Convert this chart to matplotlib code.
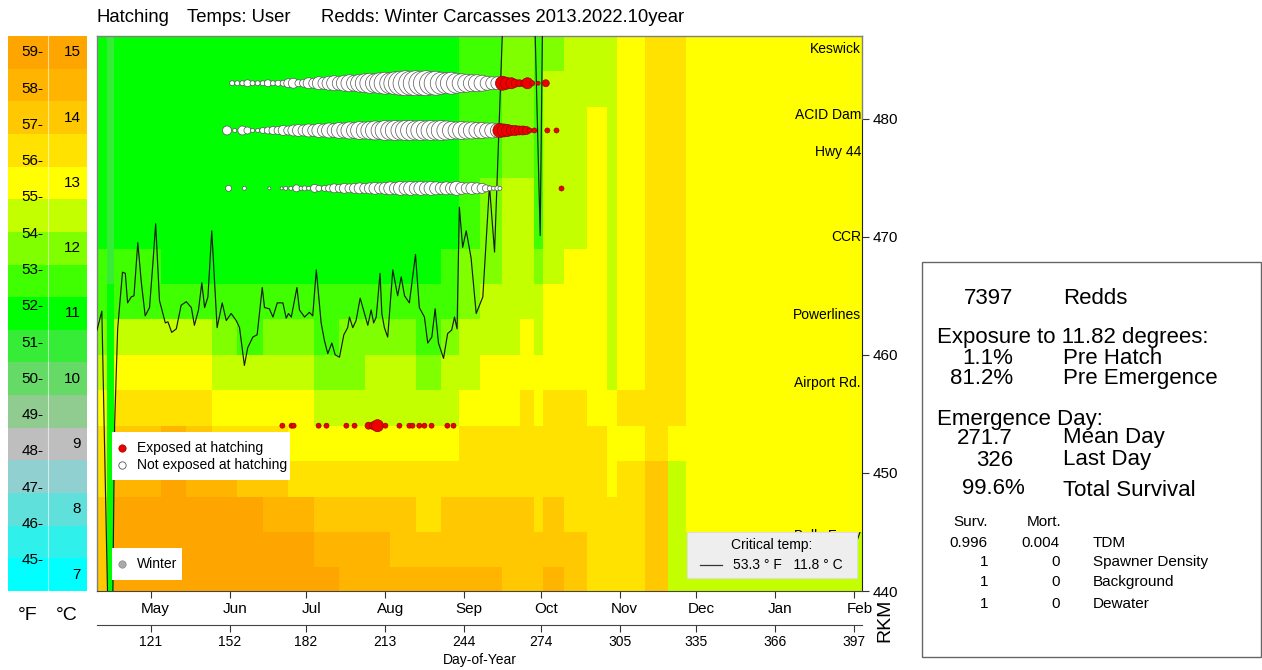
import numpy as np
import matplotlib
matplotlib.use('Agg')
import matplotlib.pyplot as plt
from matplotlib.colors import ListedColormap, BoundaryNorm
from matplotlib.patches import Rectangle
from matplotlib.lines import Line2D
from matplotlib.transforms import ScaledTranslation

plt.rcParams['font.family'] = ['Liberation Sans', 'DejaVu Sans']

# ---------------- data ----------------
band_centers_c = [7.0, 7.5, 8.0, 8.5, 9.0, 9.5, 10.0, 10.5, 11.0, 11.5,
                  12.0, 12.5, 13.0, 13.5, 14.0, 14.5, 15.0]
band_colors = ['#00FFFF', '#30F0EC', '#60E0DA', '#90D0D0', '#BEBEBE', '#90CB90',
               '#66DA66', '#36EC36', '#00FF00', '#40FF00', '#80FF00', '#C4FF00',
               '#FFFF00', '#FFE200', '#FFC800', '#FFB400', '#FFA500']

day_edges = [100, 104, 106.5, 115, 125, 135, 145, 155, 165, 175, 185, 195, 205, 215,
             225, 235, 242, 250, 259, 266, 271.5, 275, 283, 292, 300, 304, 315, 324,
             331, 400]
rkm_edges = [487, 484, 481, 478, 475, 472, 469, 466, 463, 460, 457, 454, 451, 448,
             445, 442, 440]
# temperature (deg C) per day column, top (upstream) to bottom (downstream)
temp_cols = [
    [11.0, 11.0, 11.0, 11.0, 11.0, 11.0, 11.5, 11.5, 12.0, 12.5, 13.0, 13.5, 13.5, 14.0, 14.0, 14.0],
    [10.5, 10.5, 10.5, 10.5, 10.5, 10.5, 10.5, 11.0, 11.0, 11.0, 11.0, 11.0, 11.0, 11.0, 11.0, 11.0],
    [11.0, 11.0, 11.0, 11.0, 11.0, 11.0, 11.5, 11.5, 12.5, 13.0, 13.5, 14.0, 14.5, 15.0, 15.0, 15.0],
    [11.0, 11.0, 11.0, 11.0, 11.0, 11.0, 11.5, 11.5, 12.5, 13.0, 13.5, 14.0, 14.5, 15.0, 15.0, 15.0],
    [11.0, 11.0, 11.0, 11.0, 11.0, 11.0, 11.0, 11.5, 12.5, 13.0, 13.5, 14.5, 15.0, 15.0, 15.0, 15.0],
    [11.0, 11.0, 11.0, 11.0, 11.0, 11.0, 11.0, 11.5, 12.5, 13.0, 13.5, 14.0, 14.5, 15.0, 15.0, 15.0],
    [11.0, 11.0, 11.0, 11.0, 11.0, 11.0, 11.0, 11.5, 12.0, 12.5, 13.0, 13.5, 14.5, 15.0, 15.0, 15.0],
    [11.0, 11.0, 11.0, 11.0, 11.0, 11.0, 11.0, 11.5, 11.5, 12.5, 13.0, 13.5, 14.0, 15.0, 15.0, 15.0],
    [11.0, 11.0, 11.0, 11.0, 11.0, 11.0, 11.0, 11.5, 12.0, 12.5, 13.0, 13.5, 14.0, 14.5, 15.0, 15.0],
    [11.0, 11.0, 11.0, 11.0, 11.0, 11.0, 11.0, 11.5, 12.0, 12.5, 13.0, 13.0, 13.5, 14.5, 15.0, 15.0],
    [11.0, 11.0, 11.0, 11.0, 11.0, 11.0, 11.0, 11.5, 11.5, 12.0, 12.5, 13.0, 13.5, 14.0, 14.5, 15.0],
    [11.0, 11.0, 11.0, 11.0, 11.0, 11.0, 11.0, 11.5, 12.0, 12.0, 12.5, 13.0, 13.5, 14.0, 14.5, 14.5],
    [11.0, 11.0, 11.0, 11.0, 11.0, 11.0, 11.0, 11.5, 12.0, 12.5, 12.5, 13.0, 13.5, 14.0, 14.5, 14.5],
    [11.0, 11.0, 11.0, 11.0, 11.0, 11.0, 11.0, 11.5, 12.0, 12.5, 12.5, 13.0, 13.5, 14.0, 14.0, 14.5],
    [11.0, 11.0, 11.0, 11.0, 11.0, 11.0, 11.0, 11.5, 11.5, 12.0, 12.5, 13.0, 13.5, 13.5, 14.0, 14.5],
    [11.0, 11.0, 11.0, 11.0, 11.0, 11.0, 11.5, 11.5, 12.0, 12.5, 12.5, 13.0, 13.5, 14.0, 14.0, 14.5],
    [11.5, 11.5, 11.5, 11.5, 11.5, 11.5, 12.0, 12.0, 12.5, 12.5, 13.0, 13.5, 13.5, 14.0, 14.0, 14.5],
    [11.5, 11.5, 11.5, 11.5, 12.0, 12.0, 12.0, 12.5, 12.5, 13.0, 13.0, 13.5, 13.5, 14.0, 14.0, 14.5],
    [12.0, 12.0, 12.0, 12.0, 12.5, 12.5, 12.5, 12.5, 12.5, 13.0, 13.0, 13.5, 13.5, 14.0, 14.0, 14.0],
    [12.0, 12.0, 12.0, 12.0, 12.5, 12.5, 12.5, 12.5, 13.0, 13.0, 13.5, 13.5, 13.5, 14.0, 14.0, 14.0],
    [11.5, 11.5, 11.5, 11.5, 11.5, 11.5, 12.0, 12.5, 12.5, 13.0, 13.0, 13.5, 13.5, 13.5, 14.0, 14.0],
    [12.0, 12.5, 12.5, 12.5, 12.5, 12.5, 12.5, 13.0, 13.0, 13.0, 13.5, 13.5, 13.5, 14.0, 14.0, 14.5],
    [12.5, 12.5, 12.5, 12.5, 12.5, 12.5, 13.0, 13.0, 13.0, 13.0, 13.5, 13.5, 13.5, 13.5, 14.0, 14.0],
    [12.5, 12.5, 13.0, 13.0, 13.0, 13.0, 13.0, 13.0, 13.0, 13.0, 13.0, 13.5, 13.5, 13.5, 13.5, 13.5],
    [12.5, 12.5, 12.5, 12.5, 12.5, 12.5, 12.5, 12.5, 12.5, 12.5, 13.0, 13.0, 13.0, 13.5, 13.5, 13.5],
    [13.0, 13.0, 13.0, 13.0, 13.0, 13.0, 13.0, 13.0, 13.0, 13.0, 13.5, 13.0, 13.5, 13.5, 13.5, 13.5],
    [13.5, 13.5, 13.5, 13.5, 13.5, 13.5, 13.5, 13.5, 13.5, 13.5, 13.5, 13.5, 14.0, 14.0, 14.0, 14.0],
    [13.5, 13.5, 13.5, 13.5, 13.5, 13.5, 13.5, 13.5, 13.5, 13.5, 13.5, 13.0, 12.5, 12.5, 12.5, 12.5],
    [13.0, 13.0, 13.0, 13.0, 13.0, 13.0, 13.0, 13.0, 13.0, 13.0, 13.0, 13.0, 13.0, 13.0, 12.5, 12.5],
]

# critical temperature (11.8 C) contour: day-of-year and RKM
crit_day = [100.0, 101.9, 104.3, 106.1, 106.9, 108.1, 110.0, 111.1, 112.0, 113.4, 114.5,
            116.0, 117.4, 118.9, 120.6, 121.9, 123.0, 124.5, 126.8, 127.8, 129.3, 131.1,
            133.0, 135.0, 137.0, 138.2, 139.8, 141.1, 142.2, 143.5, 145.0, 147.1, 149.1,
            150.7, 152.6, 154.6, 155.9, 157.8, 159.1, 161.1, 162.8, 164.8, 165.7, 167.6,
            169.0, 170.7, 172.9, 174.2, 175.1, 176.2, 178.4, 179.4, 181.4, 183.3, 184.6,
            186.0, 187.9, 189.2, 190.5, 192.1, 193.4, 195.1, 196.8, 198.3, 199.0, 200.3,
            201.6, 203.2, 204.9, 206.2, 207.5, 208.5, 209.5, 211.0, 211.7, 212.7, 214.0,
            216.0, 217.9, 219.3, 220.6, 222.5, 224.9, 226.4, 228.4, 229.7, 231.3, 232.6,
            233.9, 235.9, 237.5, 239.1, 240.2, 241.2, 242.1, 243.4, 244.8, 246.7, 248.7,
            251.3, 253.9, 255.9, 259.0, 259.8, np.nan, 271.5, 273.8, 274.8]
crit_rkm = [462.1, 463.7, 438.0, 438.0, 454.0, 462.2, 467.0, 466.9, 464.4, 464.9, 465.0,
            469.5, 466.1, 463.3, 464.0, 467.7, 471.1, 464.6, 462.7, 462.8, 461.9, 462.2,
            464.2, 464.5, 464.0, 462.5, 463.8, 466.1, 464.0, 464.9, 470.5, 462.3, 464.4,
            462.9, 463.5, 462.9, 462.3, 459.1, 460.6, 461.5, 461.7, 465.7, 464.0, 463.9,
            463.2, 464.4, 464.4, 463.1, 463.5, 463.2, 465.7, 463.8, 463.2, 463.6, 463.3,
            467.2, 462.7, 461.2, 460.1, 461.0, 460.0, 459.8, 461.7, 462.3, 463.2, 462.3,
            462.9, 464.8, 463.5, 462.5, 463.8, 462.7, 463.2, 466.9, 463.5, 462.3, 461.5,
            467.2, 465.0, 466.6, 465.0, 464.4, 468.5, 464.0, 463.2, 461.0, 461.5, 463.9,
            461.0, 459.7, 461.8, 462.1, 463.2, 462.2, 472.5, 469.1, 470.5, 468.2, 463.5,
            464.9, 474.3, 468.7, 487.4, 490.0, np.nan, 490.0, 470.1, 490.0]

site_names = ['Keswick', 'ACID Dam', 'Hwy 44', 'CCR', 'Powerlines', 'Airport Rd.', 'Balls Ferry']
site_rkm = [485.9, 480.3, 477.2, 470.0, 463.4, 457.6, 444.7]

# redd groups (bubbles): day-of-year and diameter (px); white = not exposed, red = exposed
row_rkm = [483.0, 479.0, 474.1, 454.0]

r1_white_day = [153, 155, 157, 159, 161, 163, 165, 167, 169, 171, 173, 175, 177, 179, 181,
                183, 185, 187, 189, 191, 193, 195, 197, 199, 201, 203, 205, 207, 209, 211,
                213, 215, 217, 219, 221, 223, 225, 227, 229, 231, 233, 235, 237, 239, 241,
                243, 245, 247, 249, 251, 253, 255, 257]
r1_white_size = [5, 5, 5, 7, 5, 5, 5, 7, 5, 6, 6, 9, 10, 7, 8, 11, 10, 13, 12, 14, 15, 14,
                 16, 17, 16, 18, 19, 20, 19, 21, 22, 21, 23, 24, 25, 24, 25, 24, 25, 23, 24,
                 22, 21, 22, 20, 19, 18, 17, 17, 16, 14, 13, 13]
r1_red_day = [259, 260.5, 262.5, 264, 265.7, 267.5, 268.8, 270.7, 273, 276]
r1_red_size = [14, 12, 11, 8, 7, 7, 11, 5, 4, 7]

r2_white_day = [151, 154, 157, 159, 161, 163, 165, 167, 169, 171, 173, 175, 177, 179, 181,
                183, 185, 187, 189, 191, 193, 195, 197, 199, 201, 203, 205, 207, 209, 211,
                213, 215, 217, 219, 221, 223, 225, 227, 229, 231, 233, 235, 237, 239, 241,
                243, 245, 247, 249, 251, 253, 255, 257]
r2_white_size = [9, 4, 9, 7, 4, 4, 6, 7, 8, 8, 10, 9, 11, 12, 11, 13, 12, 14, 13, 15, 14,
                 16, 15, 17, 16, 18, 17, 18, 19, 18, 20, 19, 20, 19, 20, 20, 19, 20, 19, 20,
                 19, 20, 19, 18, 17, 18, 17, 17, 16, 16, 15, 15, 14]
r2_red_day = [258, 259.5, 261, 262.5, 264, 265.5, 267, 268.4, 269.6, 271.5, 276.6, 280.2]
r2_red_size = [14, 13, 12, 10, 10, 9, 9, 8, 5, 5, 5, 5]

r3_white_day = [151.6, 157.8, 167.6, 172.4, 174, 176, 178.2, 180, 181.4, 183, 185.3, 187,
                189.2, 191, 193, 195, 197, 199, 201, 203, 205, 207, 209, 211, 213, 215,
                217, 219, 221, 223, 225, 227, 229, 231, 233, 235, 237, 239, 241, 243, 245,
                247, 249, 251, 252.5, 254, 255.5, 257, 258]
r3_white_size = [6, 4, 3, 3, 4, 4, 7, 4, 5, 4, 8, 6, 6, 7, 9, 8, 10, 9, 10, 11, 10, 11, 12,
                 11, 12, 13, 12, 14, 13, 14, 13, 14, 13, 14, 13, 12, 13, 12, 14, 12, 11, 12,
                 11, 10, 7, 5, 4, 5, 4]
r3_red_day = [282.1]
r3_red_size = [5]

r4_red_day = [172.7, 176.3, 177.1, 186.9, 190.0, 197.8, 201.0, 206.5, 208.4, 210.0, 213.1,
              218.6, 222.5, 223.7, 226.4, 228.4, 231.2, 237.4, 239.8]
r4_red_size = [5, 5, 5, 5, 5, 5, 5, 7, 8, 12, 5, 5, 5, 5, 5, 5, 5, 5, 5]

month_days = [121, 152, 182, 213, 244, 274, 305, 335, 366, 397]
month_names = ['May', 'Jun', 'Jul', 'Aug', 'Sep', 'Oct', 'Nov', 'Dec', 'Jan', 'Feb']
rkm_ticks = [440, 450, 460, 470, 480]

temp_f_labels = list(range(45, 60))
temp_c_labels = list(range(7, 16))

title_parts = ['Hatching', 'Temps: User', 'Redds: Winter Carcasses 2013.2022.10year']
stats_numbers = ['7397', '1.1%', '81.2%', '271.7', '326', '99.6%']
stats_labels = ['Redds', 'Pre Hatch', 'Pre Emergence', 'Mean Day', 'Last Day', 'Total Survival']
surv_vals = ['0.996', '1', '1', '1']
mort_vals = ['0.004', '0', '0', '0']
mort_names = ['TDM', 'Spawner Density', 'Background', 'Dewater']

# ---------------- figure ----------------
W, H = 1262, 670
fig = plt.figure(figsize=(W / 100, H / 100), dpi=100)


def fx(px):
    return px / W


def fy(py):
    return 1 - py / H


ax = fig.add_axes([fx(97), fy(591), (862 - 97) / W, (591 - 36) / H])
bounds = np.arange(6.75, 15.26, 0.5)
cmap = ListedColormap(band_colors)
cmap.set_over(band_colors[-1])
cmap.set_under(band_colors[0])
norm = BoundaryNorm(bounds, cmap.N)
C = np.array(temp_cols).T
ax.pcolormesh(day_edges, rkm_edges, C, cmap=cmap, norm=norm, shading='flat',
              edgecolors='none', antialiased=False, zorder=1)

ax.plot(crit_day, crit_rkm, color='#1a1a1a', lw=0.85, zorder=3)


def d2s(d):
    return (np.asarray(d) * 0.72) ** 2


white_kw = dict(c='white', edgecolors='#555555', linewidths=0.5, zorder=4)
red_kw = dict(c='#EE0000', edgecolors='#990000', linewidths=0.5, zorder=4)
ax.scatter(r1_white_day, [row_rkm[0]] * len(r1_white_day), s=d2s(r1_white_size), **white_kw)
ax.scatter(r1_red_day, [row_rkm[0]] * len(r1_red_day), s=d2s(r1_red_size), **red_kw)
ax.scatter(r2_white_day, [row_rkm[1]] * len(r2_white_day), s=d2s(r2_white_size), **white_kw)
ax.scatter(r2_red_day, [row_rkm[1]] * len(r2_red_day), s=d2s(r2_red_size), **red_kw)
ax.scatter(r3_white_day, [row_rkm[2]] * len(r3_white_day), s=d2s(r3_white_size), **white_kw)
ax.scatter(r3_red_day, [row_rkm[2]] * len(r3_red_day), s=d2s(r3_red_size), **red_kw)
ax.scatter(r4_red_day, [row_rkm[3]] * len(r4_red_day), s=d2s(r4_red_size), **red_kw)

for name, r in zip(site_names, site_rkm):
    ax.text(399.6, r, name, ha='right', va='center', fontsize=10, zorder=5)

ax.set_xlim(100, 400)
ax.set_ylim(440, 487)

ax.set_xticks(month_days)
ax.set_xticklabels(month_names)
ax.tick_params(axis='x', length=5, pad=3, labelsize=11, color='#333333')
shift = ScaledTranslation(5 / 100, 0, fig.dpi_scale_trans)
for lab in ax.get_xticklabels():
    lab.set_transform(lab.get_transform() + shift)
ax.yaxis.tick_right()
ax.set_yticks(rkm_ticks)
ax.tick_params(axis='y', length=5, pad=3, labelsize=11, color='#333333')
for s in ['left', 'top']:
    ax.spines[s].set_color('#808080')
    ax.spines[s].set_linewidth(1.0)
ax.spines['bottom'].set_color('#444444')
ax.spines['right'].set_bounds(440, 480)
ax.spines['right'].set_color('#222222')
ax.plot([400, 400], [480, 487], color='#808080', lw=1.0, clip_on=False, zorder=5)

sec = ax.secondary_xaxis(-0.0613)
sec.set_xticks(month_days)
sec.set_xticklabels([str(d) for d in month_days])
sec.tick_params(length=5, pad=2, labelsize=10, color='#333333')
sec.spines['bottom'].set_color('#444444')
sec.set_xlabel('Day-of-Year', fontsize=10, labelpad=3)

fig.text(fx(885), fy(620), 'RKM', rotation=90, ha='center', va='center', fontsize=14)

# legends inside plot
ax.add_patch(Rectangle((0.0196, 0.20), 0.2327, 0.0865, transform=ax.transAxes,
                       facecolor='white', edgecolor='none', zorder=6))
ax.scatter([0.0327], [0.2577], transform=ax.transAxes, s=28, c='#EE0000',
           edgecolors='#990000', linewidths=0.5, zorder=7)
ax.scatter([0.0327], [0.2270], transform=ax.transAxes, s=28, c='white',
           edgecolors='#555555', linewidths=0.6, zorder=7)
ax.text(0.0523, 0.2577, 'Exposed at hatching', transform=ax.transAxes, fontsize=10,
        va='center', ha='left', zorder=7)
ax.text(0.0523, 0.2270, 'Not exposed at hatching', transform=ax.transAxes, fontsize=10,
        va='center', ha='left', zorder=7)

ax.add_patch(Rectangle((0.0196, 0.0198), 0.0915, 0.0577, transform=ax.transAxes,
                       facecolor='white', edgecolor='none', zorder=6))
ax.scatter([0.0327], [0.0486], transform=ax.transAxes, s=28, c='#AAAAAA',
           edgecolors='#888888', linewidths=0.5, zorder=7)
ax.text(0.0523, 0.0486, 'Winter', transform=ax.transAxes, fontsize=10,
        va='center', ha='left', zorder=7)

ax.add_patch(Rectangle((0.7712, 0.0234), 0.2223, 0.0829, transform=ax.transAxes,
                       facecolor='#EEEEEE', edgecolor='#DDDDDD', lw=0.8, zorder=6))
ax.text(0.8824, 0.0829, 'Critical temp:', transform=ax.transAxes, fontsize=10,
        ha='center', va='center', zorder=7)
ax.add_line(Line2D([0.788, 0.817], [0.0468, 0.0468], transform=ax.transAxes,
                   color='#333333', lw=0.9, zorder=7))
ax.text(0.8314, 0.0468, '53.3 ° F   11.8 ° C', transform=ax.transAxes, fontsize=10,
        ha='left', va='center', zorder=7)

# title
for t, px in zip(title_parts, [97, 187, 321]):
    fig.text(fx(px), fy(18), t, ha='left', va='center', fontsize=13.3)

# colour key
cb = fig.add_axes([fx(8), fy(591), (87 - 8) / W, (591 - 36) / H])
for c, col in zip(band_centers_c, band_colors):
    cb.add_patch(Rectangle((0, c - 0.25), 2, 0.5, facecolor=col, edgecolor='none'))
cb.axvline(1, color='white', lw=0.8, alpha=0.6)
cb.set_xlim(0, 2)
cb.set_ylim(6.75, 15.25)
cb.axis('off')
for f in temp_f_labels:
    cb.text(0.9, (f - 32) * 5 / 9, f'{f}-', ha='right', va='center', fontsize=11)
for c in temp_c_labels:
    cb.text(1.84, c, f'{c}', ha='right', va='center', fontsize=11)
fig.text(fx(28), fy(615), '°F', ha='center', va='center', fontsize=14)
fig.text(fx(67), fy(615), '°C', ha='center', va='center', fontsize=14)

# statistics panel
fig.add_artist(Rectangle((fx(922), fy(657)), (1261 - 922) / W, (657 - 262) / H,
                         transform=fig.transFigure, fill=False, edgecolor='#666666', lw=1))
num_py = [298, 359, 378, 439, 461, 488]
num_px = [1013, 1013, 1013, 1013, 1013, 1025]
lab_py = [298, 358, 378, 438, 459, 491]
for t, px, py in zip(stats_numbers, num_px, num_py):
    fig.text(fx(px), fy(py), t, ha='right', va='center', fontsize=16)
for t, py in zip(stats_labels, lab_py):
    fig.text(fx(1063), fy(py), t, ha='left', va='center', fontsize=16)
fig.text(fx(937), fy(337), 'Exposure to 11.82 degrees:', ha='left', va='center', fontsize=16)
fig.text(fx(937), fy(419), 'Emergence Day:', ha='left', va='center', fontsize=16)

fig.text(fx(988), fy(522), 'Surv.', ha='right', va='center', fontsize=11)
fig.text(fx(1061), fy(522), 'Mort.', ha='right', va='center', fontsize=11)
small_py = [543, 562, 582, 604]
for sv, mv, nm, py in zip(surv_vals, mort_vals, mort_names, small_py):
    fig.text(fx(988), fy(py), sv, ha='right', va='center', fontsize=11)
    fig.text(fx(1060), fy(py), mv, ha='right', va='center', fontsize=11)
    fig.text(fx(1093), fy(py), nm, ha='left', va='center', fontsize=11)

fig.savefig('out.png', dpi=100)
